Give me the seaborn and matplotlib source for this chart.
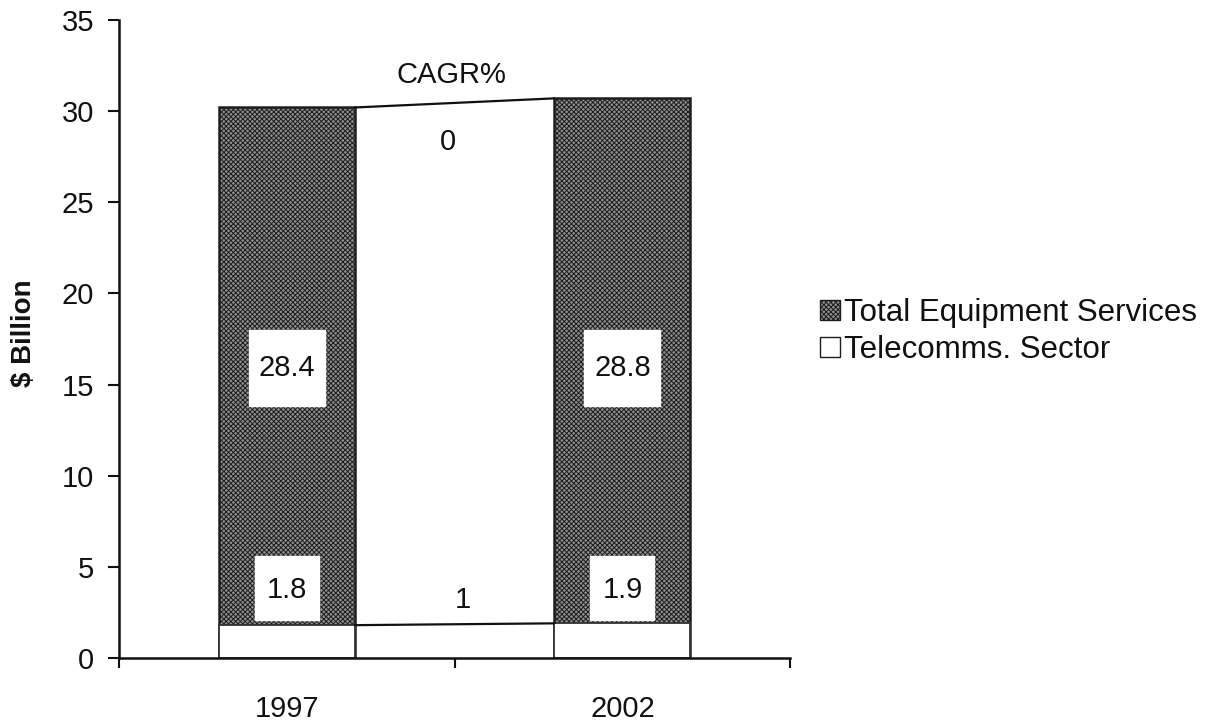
import matplotlib
matplotlib.use("Agg")
import matplotlib.pyplot as plt
from matplotlib.patches import Patch
import seaborn as sns
import pandas as pd

years = ["1997", "2002"]
telecom = [1.8, 1.9]
equipment = [28.4, 28.8]
cagr_equipment = "0"
cagr_telecom = "1"

totals = [t + e for t, e in zip(telecom, equipment)]
df = pd.DataFrame({"year": years, "telecom": telecom, "total": totals})

sns.set_theme(style="white")
plt.rcParams["font.family"] = ["Liberation Sans", "DejaVu Sans"]
plt.rcParams["hatch.color"] = "#2e2e2e"
plt.rcParams["hatch.linewidth"] = 0.7

FS = 21
INK = "#111111"
FILL = "#8e8e8e"

fig = plt.figure(figsize=(12.17, 7.24), dpi=100)
ax = fig.add_axes([0.0978, 0.0912, 0.5515, 0.8812])

width = 0.405
sns.barplot(data=df, x="year", y="total", ax=ax, color=FILL,
            width=width, saturation=1, edgecolor="#1e1e1e", linewidth=1.8)
for p in ax.patches:
    p.set_hatch("xxxxxxx")
n_top = len(ax.patches)
sns.barplot(data=df, x="year", y="telecom", ax=ax, color="white",
            width=width, saturation=1, edgecolor="#333333", linewidth=1.3)

# series connector lines between the two stacks
bars_top = ax.patches[:n_top]
bars_bot = ax.patches[n_top:]
ax.plot([bars_top[0].get_x() + width, bars_top[1].get_x()],
        [totals[0], totals[1]], color=INK, lw=1.6)
ax.plot([bars_bot[0].get_x() + width, bars_bot[1].get_x()],
        [telecom[0], telecom[1]], color=INK, lw=1.6)

# value labels on white square plates
for i in range(len(years)):
    ax.plot(i, 15.9, marker="s", markersize=55, color="white", zorder=4)
    ax.text(i, 15.9, f"{equipment[i]:.1f}", ha="center", va="center",
            fontsize=FS, color=INK, zorder=5)
    ax.plot(i, 3.85, marker="s", markersize=46, color="white", zorder=4)
    ax.text(i, 3.75, f"{telecom[i]:.1f}", ha="center", va="center",
            fontsize=FS, color=INK, zorder=5)

ax.text(0.49, 32.0, "CAGR%", ha="center", va="center", fontsize=FS, color=INK)
ax.text(0.48, 28.3, cagr_equipment, ha="center", va="center", fontsize=FS, color=INK)
ax.text(0.525, 3.2, cagr_telecom, ha="center", va="center", fontsize=FS, color=INK)

ax.set_xlim(-0.5, 1.5)
ax.set_ylim(0, 35)
ax.set_yticks(range(0, 36, 5))
ax.set_xticks([-0.5, 0.5, 1.5], minor=True)
ax.set_xticks([0, 1])
ax.set_xticklabels(years)
ax.tick_params(axis="x", which="major", length=0, pad=27, labelsize=FS, labelcolor=INK)
ax.tick_params(axis="x", which="minor", length=7, width=1.5, direction="out", color=INK)
ax.tick_params(axis="y", length=8, width=1.5, direction="out", labelsize=FS,
               pad=10, color=INK, labelcolor=INK)
ax.xaxis.set_ticks_position("bottom")
ax.yaxis.set_ticks_position("left")
ax.set_xlabel("")
ax.set_ylabel("$ Billion", fontsize=20, fontweight="bold", color=INK)
ax.yaxis.set_label_coords(-0.122, 0.509)
for s in ["top", "right"]:
    ax.spines[s].set_visible(False)
for s in ["left", "bottom"]:
    ax.spines[s].set_color(INK)
    ax.spines[s].set_linewidth(1.8)

handles = [Patch(facecolor=FILL, edgecolor="#1e1e1e", hatch="xxxxxxx"),
           Patch(facecolor="white", edgecolor="#1e1e1e")]
fig.legend(handles, ["Total Equipment Services", "Telecomms. Sector"],
           loc="center left", bbox_to_anchor=(0.674, 0.542), frameon=False,
           fontsize=22.5, handlelength=0.64, handleheight=0.64, handletextpad=0.12,
           labelspacing=0.22, borderpad=0, borderaxespad=0, labelcolor=INK)

fig.savefig("out.png", dpi=100, facecolor="white")
